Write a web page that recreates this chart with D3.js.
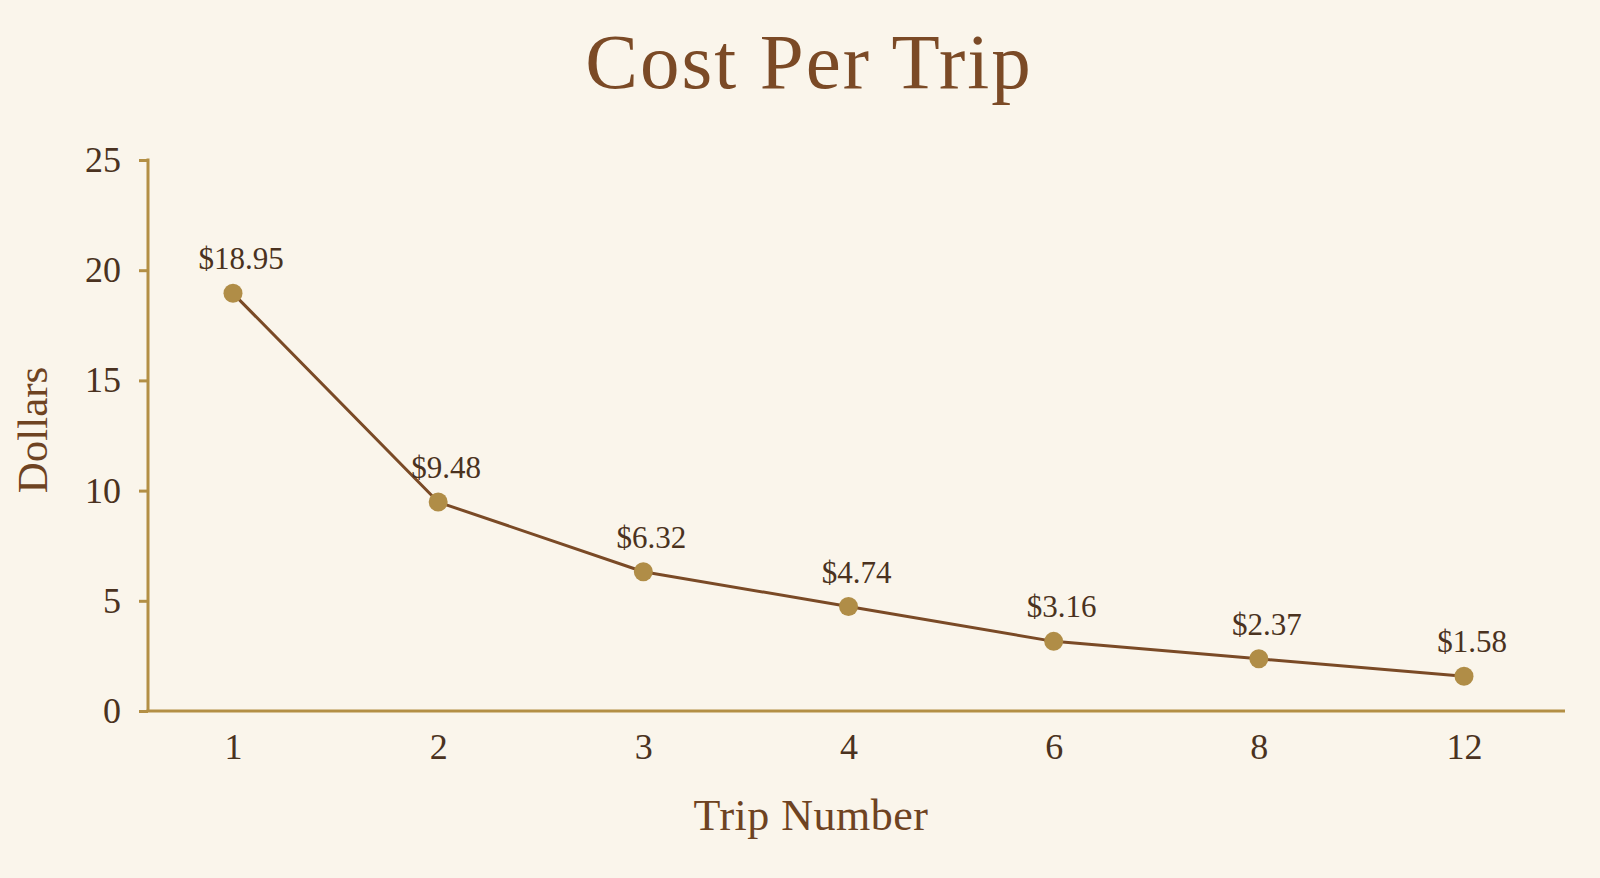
<!DOCTYPE html>
<html>
<head>
<meta charset="utf-8">
<script src="https://cdn.jsdelivr.net/npm/d3@7"></script>
<style>
  html, body { margin: 0; padding: 0; background: #faf5eb; }
  svg { display: block; }
  text { font-family: "Liberation Serif", "DejaVu Serif", serif; }
</style>
</head>
<body>
<svg id="chart" width="1600" height="878"></svg>
<script>
const trips = ["1", "2", "3", "4", "6", "8", "12"];
const costs = [18.95, 9.48, 6.32, 4.74, 3.16, 2.37, 1.58];
const costLabels = ["$18.95", "$9.48", "$6.32", "$4.74", "$3.16", "$2.37", "$1.58"];
const yTicks = [0, 5, 10, 15, 20, 25];
const title = "Cost Per Trip";
const xTitle = "Trip Number";
const yTitle = "Dollars";

const W = 1600, H = 878;
const axisColor = "#b38f45";
const textColor = "#4a3220";
const lineColor = "#7a4a26";
const dotColor = "#b08d47";

const svg = d3.select("#chart");
svg.append("rect").attr("width", W).attr("height", H).attr("fill", "#faf5eb");

const axisX = 148, axisRight = 1565;
const x = d3.scalePoint().domain(trips).range([233, 1464]);
const y = d3.scaleLinear().domain([0, 25]).range([711, 160]);

// Title
svg.append("text")
  .attr("x", 809).attr("y", 88)
  .attr("text-anchor", "middle")
  .attr("font-size", 79)
  .attr("letter-spacing", 2)
  .attr("fill", "#7b4a26")
  .text(title);

// Y axis
const yAxis = svg.append("g")
  .attr("transform", `translate(${axisX},0)`)
  .call(d3.axisLeft(y).tickValues(yTicks).tickSizeInner(9).tickSizeOuter(0).tickPadding(18));
yAxis.select(".domain").remove();
yAxis.selectAll(".tick line").attr("stroke", axisColor).attr("stroke-width", 3);
yAxis.selectAll(".tick text")
  .attr("fill", textColor)
  .attr("font-size", 36)
  .attr("font-family", "Liberation Serif, DejaVu Serif, serif");
svg.append("line")
  .attr("x1", axisX).attr("x2", axisX)
  .attr("y1", y(25) - 1.5).attr("y2", y(0))
  .attr("stroke", axisColor).attr("stroke-width", 3);

// X axis
const xAxis = svg.append("g")
  .attr("transform", `translate(0,${y(0)})`)
  .call(d3.axisBottom(x).tickSizeInner(0).tickSizeOuter(0).tickPadding(22));
xAxis.select(".domain").remove();
xAxis.selectAll(".tick line").remove();
xAxis.selectAll(".tick text")
  .attr("fill", textColor)
  .attr("font-size", 36)
  .attr("font-family", "Liberation Serif, DejaVu Serif, serif");
svg.append("line")
  .attr("x1", axisX - 1.5).attr("x2", axisRight)
  .attr("y1", y(0)).attr("y2", y(0))
  .attr("stroke", axisColor).attr("stroke-width", 3);

// Axis titles
svg.append("text")
  .attr("x", 811).attr("y", 830)
  .attr("text-anchor", "middle")
  .attr("font-size", 44)
  .attr("letter-spacing", 0.5)
  .attr("fill", "#6e4322")
  .text(xTitle);
svg.append("text")
  .attr("transform", `translate(47,430) rotate(-90)`)
  .attr("text-anchor", "middle")
  .attr("font-size", 43)
  .attr("fill", "#6e4322")
  .text(yTitle);

// Line
const pts = trips.map((t, i) => ({ t, v: costs[i], label: costLabels[i] }));
svg.append("path")
  .datum(pts)
  .attr("fill", "none")
  .attr("stroke", lineColor)
  .attr("stroke-width", 3)
  .attr("stroke-linejoin", "round")
  .attr("d", d3.line().x(d => x(d.t)).y(d => y(d.v)));

// Dots
svg.selectAll("circle.dot")
  .data(pts).enter().append("circle")
  .attr("class", "dot")
  .attr("cx", d => x(d.t)).attr("cy", d => y(d.v))
  .attr("r", 9.5)
  .attr("fill", dotColor);

// Value labels
svg.selectAll("text.val")
  .data(pts).enter().append("text")
  .attr("class", "val")
  .attr("x", d => x(d.t) + 8).attr("y", d => y(d.v) - 24)
  .attr("text-anchor", "middle")
  .attr("font-size", 31)
  .attr("fill", textColor)
  .text(d => d.label);
</script>
</body>
</html>
